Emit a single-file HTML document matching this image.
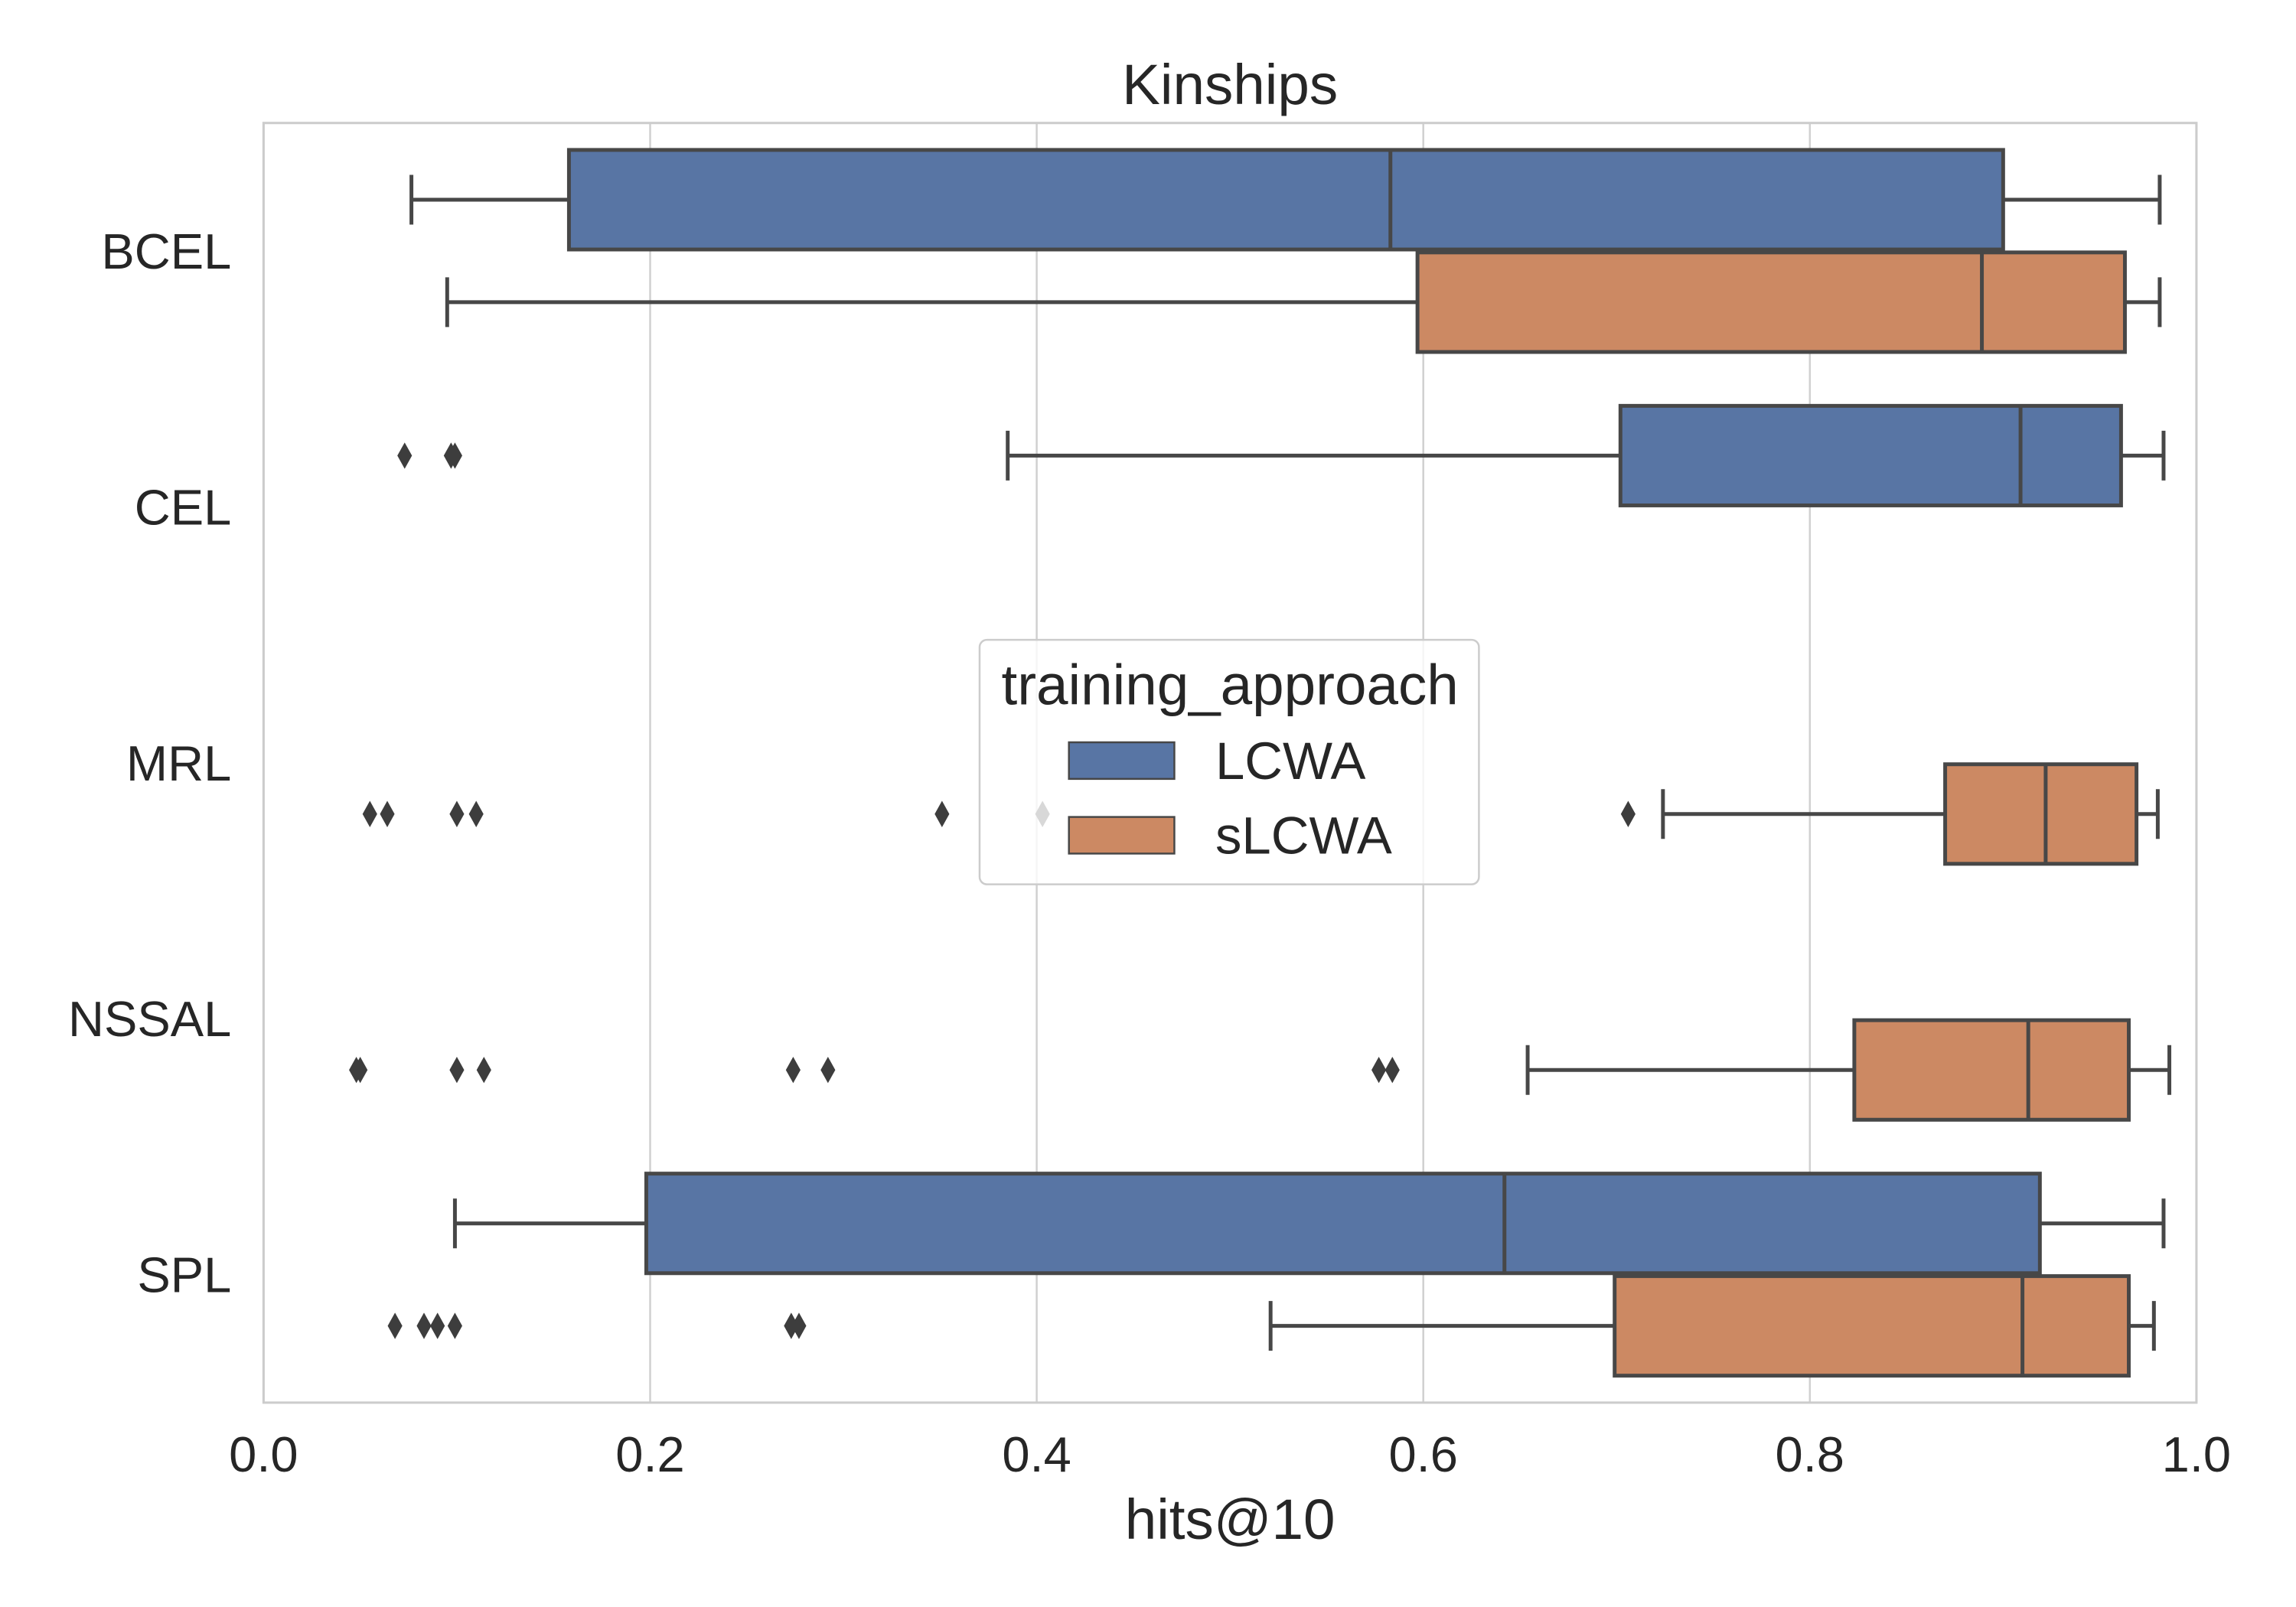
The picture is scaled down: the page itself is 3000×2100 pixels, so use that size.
<!DOCTYPE html>
<html><head><meta charset="utf-8"><style>
html,body{margin:0;padding:0;background:#fff;}
svg{display:block;}
text{font-family:"Liberation Sans",Arial,sans-serif;fill:#262626;}
</style></head><body>
<svg id="chart" xmlns="http://www.w3.org/2000/svg" width="3000" height="2100" viewBox="0 0 1568 1097.6">
<rect x="0" y="0" width="1568" height="1097.6" fill="#fff"/>
<g id="grid"></g>
<g id="marks"></g>
<g id="axes"></g>
</svg>
<script>
const categories = ["BCEL","CEL","MRL","NSSAL","SPL"];
const seriesNames = ["LCWA","sLCWA"];
const xTicks = [0.0,0.2,0.4,0.6,0.8,1.0];
const xTickLabels = ["0.0","0.2","0.4","0.6","0.8","1.0"];
// [whiskerLow, q1, median, q3, whiskerHigh] per category; null = no box
const lcwaStats = [
  [0.0765,0.158,0.583,0.900,0.981],
  [0.385,0.702,0.909,0.961,0.983],
  null,
  null,
  [0.099,0.198,0.642,0.919,0.983]
];
const slcwaStats = [
  [0.095,0.597,0.889,0.963,0.981],
  null,
  [0.724,0.870,0.922,0.969,0.980],
  [0.654,0.823,0.913,0.965,0.986],
  [0.521,0.699,0.910,0.965,0.978]
];
const lcwaOutliers = [[],[0.073,0.097,0.099],[],[],[]];
const slcwaOutliers = [
  [],[],
  [0.055,0.064,0.100,0.110,0.351,0.403,0.706],
  [0.048,0.050,0.100,0.114,0.274,0.292,0.577,0.584],
  [0.068,0.083,0.090,0.099,0.273,0.277]
];

const NS="http://www.w3.org/2000/svg";
const L=180,R=1500,T=84,B=958;
const xs=v=>L+(R-L)*v;
const bandH=(B-T)/categories.length;
const yc=i=>T+bandH*(i+0.5);
const BOXH=68, OFF=35;
const colors=["#5875a4","#cc8963"];
const lineC="#474747";
function el(tag,attrs,parent){const e=document.createElementNS(NS,tag);for(const k in attrs)e.setAttribute(k,attrs[k]);parent.appendChild(e);return e;}
const grid=document.getElementById('grid'),marks=document.getElementById('marks'),axes=document.getElementById('axes');

xTicks.forEach((t,i)=>{
  const g=el('line',{x1:xs(t),x2:xs(t),y1:T,y2:B,stroke:'#d0d0d0','stroke-width':1.3},grid);
  
  
  const tx=el('text',{x:xs(t),y:B+47,'text-anchor':'middle','font-size':34},axes);
  tx.textContent=xTickLabels[i];
  
  
});
categories.forEach((c,i)=>{
  const tx=el('text',{x:158,y:yc(i)+12,'text-anchor':'end','font-size':34},axes);
  tx.textContent=c;
  
  
});
const frame=el('rect',{x:L,y:T,width:R-L,height:B-T,fill:'none',stroke:'#cccccc','stroke-width':1.6},axes);


const title=el('text',{x:(L+R)/2,y:71,'text-anchor':'middle','font-size':39},axes);
title.textContent="Kinships";


const xl=el('text',{x:(L+R)/2,y:1051,'text-anchor':'middle','font-size':39},axes);
xl.textContent="hits@10";



function drawBox(s,y,color,name){
  if(!s)return;
  const g=el('g',{},marks);
  
  
  const st={stroke:lineC,'stroke-width':2.6};
  el('line',Object.assign({x1:xs(s[0]),x2:xs(s[1]),y1:y,y2:y},st),g);
  el('line',Object.assign({x1:xs(s[3]),x2:xs(s[4]),y1:y,y2:y},st),g);
  el('line',Object.assign({x1:xs(s[0]),x2:xs(s[0]),y1:y-17,y2:y+17},st),g);
  el('line',Object.assign({x1:xs(s[4]),x2:xs(s[4]),y1:y-17,y2:y+17},st),g);
  el('rect',Object.assign({x:xs(s[1]),y:y-BOXH/2,width:xs(s[3])-xs(s[1]),height:BOXH,fill:color},st),g);
  el('line',Object.assign({x1:xs(s[2]),x2:xs(s[2]),y1:y-BOXH/2,y2:y+BOXH/2},st),g);
}
function drawOut(list,y,name){
  list.forEach(v=>{
    const x=xs(v);
    const p=el('path',{d:`M${x},${y-9} L${x+5},${y} L${x},${y+9} L${x-5},${y} Z`,fill:'#3d3d3d'},marks);
    
    
  });
}
categories.forEach((c,i)=>{
  drawBox(lcwaStats[i],yc(i)-OFF,colors[0],'box-lcwa-'+c.toLowerCase());
  drawBox(slcwaStats[i],yc(i)+OFF,colors[1],'box-slcwa-'+c.toLowerCase());
  drawOut(lcwaOutliers[i],yc(i)-OFF,'outlier-lcwa');
  drawOut(slcwaOutliers[i],yc(i)+OFF,'outlier-slcwa');
});

// legend
const lg=el('g',{},axes);


el('rect',{x:669,y:437,width:341,height:167,rx:5,fill:'#ffffff','fill-opacity':0.8,stroke:'#cccccc','stroke-width':1.3},lg);
const lt=el('text',{x:840,y:481,'text-anchor':'middle','font-size':39},lg);
lt.textContent="training_approach";
seriesNames.forEach((n,k)=>{
  const y=507+k*51;
  const pr=el('rect',{x:730,y:y,width:72,height:25,fill:colors[k],stroke:lineC,'stroke-width':1.3},lg);
  
  
  const t=el('text',{x:830,y:y+25,'font-size':36},lg);
  t.textContent=n;
  
  
});
</script>
</body></html>
